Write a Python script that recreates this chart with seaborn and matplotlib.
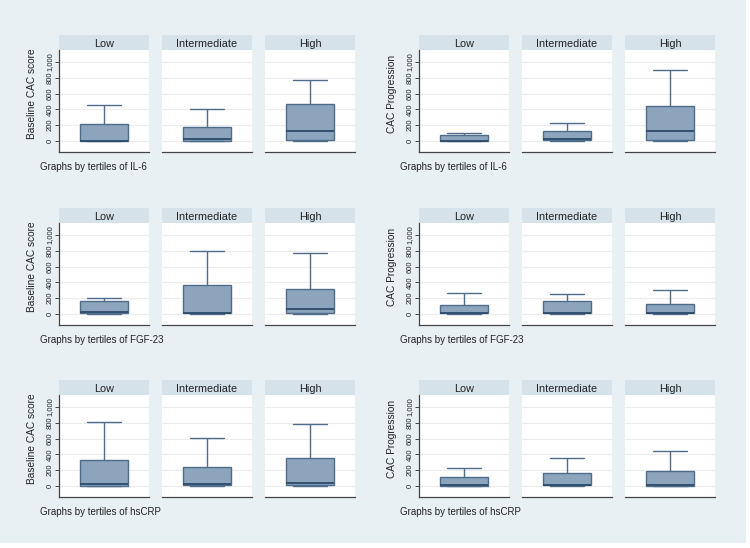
import matplotlib
matplotlib.use("Agg")
import matplotlib.pyplot as plt
import seaborn as sns
import pandas as pd
from matplotlib.patches import Rectangle

# =============================================================================
# Data: five-number summaries
# (lower whisker, q1, median, q3, upper whisker) per tertile
# =============================================================================
tertiles = ["Low", "Intermediate", "High"]

il6_baseline = [[0, 0, 5, 215, 450], [0, 5, 28, 180, 410], [0, 17, 131, 464, 776]]
il6_progression = [[0, 0, 4, 72, 101], [0, 8, 21, 122, 228], [0, 17, 122, 447, 903]]
fgf23_baseline = [[0, 8, 21, 160, 202], [0, 8, 13, 370, 794], [0, 8, 63, 311, 777]]
fgf23_progression = [[0, 10, 18, 109, 270], [0, 8, 13, 160, 252], [0, 8, 12, 126, 302]]
hscrp_baseline = [[0, 4, 21, 335, 808], [0, 8, 29, 243, 603], [0, 8, 38, 360, 778]]
hscrp_progression = [[0, 4, 17, 109, 234], [0, 8, 17, 167, 351], [0, 4, 8, 192, 448]]

ylabels = ["Baseline CAC score", "CAC Progression"]
markers = ["IL-6", "FGF-23", "hsCRP"]
yticks = [0, 200, 400, 600, 800, 1000]
yticklabels = ["0", "200", "400", "600", "800", "1,000"]

panels = [
    (il6_baseline, 0, 0), (il6_progression, 1, 0),
    (fgf23_baseline, 0, 1), (fgf23_progression, 1, 1),
    (hscrp_baseline, 0, 2), (hscrp_progression, 1, 2),
]

# =============================================================================
# Layout (pixels) and style
# =============================================================================
W, H = 750, 548
col_x = [[59, 162, 265], [419, 522, 625]]
sub_w = 90
row_strip = [35, 208, 380]
strip_h = 15
plot_h = 102

bg = "#e9f0f3"
strip_col = "#d6e2ea"
box_fill = "#8ca4bc"
box_edge = "#4f6d8b"
median_col = "#2c4b6a"
txt = "#222222"

sns.set_style("white")
plt.rcParams["font.family"] = ["Liberation Sans", "DejaVu Sans"]

fig = plt.figure(figsize=(W / 100, H / 100), dpi=100)
fig.patch.set_facecolor("white")
fig.patches.append(Rectangle((0, 5 / H), 746 / W, 543 / H, transform=fig.transFigure,
                             facecolor=bg, edgecolor="none", zorder=-10))


def fbox(x0, y0, w, h):
    return [x0 / W, 1 - (y0 + h) / H, w / W, h / H]


for data, col, row in panels:
    for k, name in enumerate(tertiles):
        x0 = col_x[col][k]
        y0 = row_strip[row]
        # strip header
        sax = fig.add_axes(fbox(x0, y0, sub_w, strip_h))
        sax.set_facecolor(strip_col)
        sax.set_xticks([])
        sax.set_yticks([])
        for s in sax.spines.values():
            s.set_visible(False)
        sax.text(0.5, 0.45, name, ha="center", va="center_baseline", fontsize=7.8,
                 color=txt, transform=sax.transAxes)

        ax = fig.add_axes(fbox(x0, y0 + strip_h, sub_w, plot_h))
        ax.set_facecolor("white")
        df = pd.DataFrame({"value": data[k]})
        sns.boxplot(data=df, y="value", ax=ax, whis=(0, 100), width=0.54, saturation=1,
                    color=box_fill, linecolor=box_edge, linewidth=1.0,
                    medianprops=dict(color=median_col, linewidth=1.3),
                    capwidths=0.37, showfliers=False)
        ax.set_xlim(-0.5, 0.5)
        ax.set_ylim(-138, 1150)
        ax.set_yticks(yticks)
        ax.grid(axis="y", color="#ececec", linewidth=0.8)
        ax.set_axisbelow(True)
        ax.set_xticks([])
        ax.set_xlabel("")
        ax.set_ylabel("")
        for side in ["top", "right", "left"]:
            ax.spines[side].set_visible(False)
        ax.spines["bottom"].set_color("#444444")
        ax.spines["bottom"].set_linewidth(0.9)
        if k == 0:
            ax.spines["left"].set_visible(True)
            ax.spines["left"].set_color("#444444")
            ax.spines["left"].set_linewidth(0.9)
            ax.set_yticklabels(yticklabels, rotation=90, va="center", ha="right",
                               fontsize=5.5, color=txt)
            ax.tick_params(axis="y", length=3, width=0.7, color="#444444", pad=1, left=True)
            ax.set_ylabel(ylabels[col], fontsize=7.3, color=txt)
            ax.yaxis.set_label_coords(-0.245, 0.57)
        else:
            ax.tick_params(axis="y", left=False, labelleft=False)

    # note under each graph
    nx = col_x[col][0] - 19
    ny = row_strip[row] + 132
    fig.text(nx / W, 1 - ny / H, "Graphs by tertiles of " + markers[row],
             fontsize=7, color=txt, va="center")

fig.savefig("out.png", dpi=100)
